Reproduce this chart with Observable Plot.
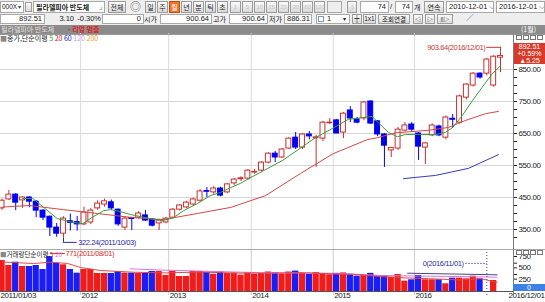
<!DOCTYPE html>
<html><head><meta charset="utf-8">
<script src="https://cdn.jsdelivr.net/npm/d3@7"></script>
<script src="https://cdn.jsdelivr.net/npm/@observablehq/plot@0.6"></script>
<style>
body{margin:0;width:545px;height:302px;overflow:hidden;background:#fff;position:relative;font-family:"Liberation Sans","Noto Sans CJK KR",sans-serif;font-size:7.5px;color:#222}
.a{position:absolute;box-sizing:border-box;white-space:nowrap;overflow:hidden}
.f{background:#fff;border:1px solid #a8a8a8;padding:0 2px}
.b{background:linear-gradient(#fbfbfb,#d9d9d9);border:1px solid #9c9c9c;text-align:center}
.d{color:#c4c4c4;font-size:6px}
.k{font-family:"Noto Sans CJK KR","Liberation Sans",sans-serif}
svg text{letter-spacing:-0.4px}
</style></head><body>
<script>
// ---------- data ----------
const open  = [400,416,444,459,441,450,437,409,390,356, 337,376,373,366,372,416,428,435,412,356, 386,387,394,381,369,372,387,412,419,428, 440,470,466,478,466,494,507,509,528,534, 559,587,575,603,637,606,647,635,634,682, 691,653,722,694,697,750,688,647,597,603, 659,678,650,606,644,672,637,696,684,762, 800,837,837,800,887];
const high  = [425,445,472,462,453,452,440,412,392,369, 390,398,391,420,415,440,445,442,414,390, 388,406,409,384,382,388,415,428,438,448, 475,481,484,482,494,510,515,537,538,562, 590,594,603,637,653,650,656,644,688,697, 694,716,734,700,750,752,690,650,606,669, 684,684,653,622,680,676,705,709,770,806, 840,840,885,893,903.64];
const low   = [395,410,440,409,416,418,387,378,328,326, 322.24,345,345,362,365,410,420,410,360,347, 347,383,375,358,347,368,383,408,415,424, 436,450,460,452,462,488,500,505,522,530, 555,559,572,600,600,600,630,544,625,678, 650,634,684,680,690,678,640,544,575,597, 655,655,566,553,640,640,630,666,680,755, 795,820,830,795,840];
const close = [418,440,459,434,450,437,409,387,356,337, 384,371,366,403,409,431,438,416,366,384, 383,400,378,362,378,384,412,425,434,444, 469,468,478,456,491,506,510,534,530,559, 587,575,600,634,606,647,641,638,684,684, 650,712,697,684,747,681,647,612,605,662, 675,662,609,619,675,644,700,693,766,803, 837,825,881,890,892.51];
const volume = [600,684,574,646,552,552,574,485,771,624, 589,485,404,485,485,397,397,397,441,404, 404,397,404,441,441,353,441,331,331,441, 441,420,380,430,400,410,360,420,380,400, 430,410,390,430,450,400,380,420,390,370, 400,410,380,340,360,400,340,353,316,375, 228,258,353,258,258,258,170,294,294,280, 338,280,0,243,0];

const ma5Idx  = [4,5.5,7.1,9.1,10.3,11.5,12.8,14.2,15.9,16.9,18.3,19.8,22.7,24.6,26.1,27.6,29.6,31.5,33,34.5,35.9,37.4,39.3,42.1,44.4,46.9,49.4,51.7,53.8,55.2,56.1,57.6,58.9,60.1,64.5,65.9,67,68.4,69.9,71.3,72.8,74];
const ma5Val  = [447,447,419,384,378,372,368,388,409,412,406,397,384,378,387,409,431,456,466,481,494,512,534,566,600,637,666,694,700,703,684,653,640,647,647,653,669,706,753,794,837,862];
const ma20Idx = [1,5,10,15,20.2,24.6,29.6,34.5,39.6,44.7,49.5,54.5,56,58.6,63.4,66.4,68.9,71.8,73.7];
const ma20Val = [420,425,412,400,387,381,400,419,456,525,587,631,637,652,660,669,691,712,719];
const ma60Idx = [59.8,64.5,69.3,73.7];
const ma60Val = [509,519,541,584];

const vma5Idx  = [1,5.6,8.1,10.6,12.5,15.4,20.2,25,30.1,35,40,45,50,53,56.4,60,64,68,71.1,73.5];
const vma5Val  = [650,618,646,618,529,463,426,410,430,405,405,415,385,375,330,300,280,255,280,205];
const vma20Idx = [19.8,25,30.1,35,40,45,50,56.4,62,68,73.5];
const vma20Val = [500,470,450,430,410,410,400,353,340,330,316];
const vma60Idx = [60.4,73.5];
const vma60Val = [404,368];

const priceTicks = [350,450,550,650,750,850];
const priceMinor = [325,375,400,425,475,500,525,575,600,625,675,700,725,775,800,825,875,900];
const volTicks = [250,500,750];
const volMinor = [125,375,625];
const yearIdx = [12.5,25.4,37.5,49.5,61.4];
const yearLabels = ["2012","2013","2014","2015","2016"];
const firstLabel = "2011/01/03", lastLabel = "2016/12/01";
const hiDate = "2016/12/01", loDate = "2011/10/03", vMaxDate = "2011/08/01", vMinDate = "2016/11/01";

// ---------- helpers ----------
function el(x,y,w,h,html,cls="",css=""){const d=document.createElement("div");d.className="a "+cls;d.style.cssText=`left:${x}px;top:${y}px;width:${w}px;height:${h}px;line-height:${h-(cls.includes("f")||cls.includes("b")?2:0)}px;${css}`;d.innerHTML=html;document.body.appendChild(d);return d;}

// ---------- toolbar ----------
el(0,0,545,25,"","","background:#eeeeee");
el(0,1,24,12,"000X","f","padding-left:1px;font-size:6.5px");
el(18,4,5,6,"▾","","font-size:6px;line-height:6px;color:#444");
el(25,2,7,10,"","b");
el(33,1,72,12,"필라델피아 반도체","f k","font-weight:bold;font-size:7px");
el(99,3,5,7,"⌟","","color:#777;line-height:7px");
el(108,1,18,12,"전체","b k","font-size:7px");
el(129,1,13,12,"◎","","color:#666;font-size:11px;text-align:center");
["일","주","월","년","분","틱","초"].forEach((t,k)=>el(145+k*12,1,11,12,t,"b k",(t==="월"?"background:#f0742c;color:#fff;border-color:#c05010;":"")+"font-size:7px"));
["1","5","10","15","20","30","60","120"].forEach((t,k)=>el(230+k*12,1,11,12,t,"b d","padding:0"));
el(327,1,15,12,"","f","background:#eee");
el(347,1,10,12,"⇓","b d");
el(360,1,29,12,"74","f","text-align:right");
el(390,1,4,12,"/");
el(395,1,18,12,"74","f","text-align:right");
el(414,1,8,12,"개","k","font-size:7px");
el(424,1,20,12,"연속","b k","font-size:7px");
el(446,1,48,12,"2010-12-01 <span style='color:#666'>⌵</span>","f");
el(496,1,49,12,"2016-12-01 <span style='color:#666'>⌵</span>","f");
el(0,14,45,10,"892.51","f","text-align:right");
el(46,14,28,10,"3.10","","text-align:right");
el(75,14,26,10,"-0.30%","","text-align:right");
el(102,14,42,10,"0","f","text-align:right");
el(144,14,15,10,"시가","k","font-size:7px");
el(160,14,52,10,"900.64","f","text-align:right");
el(213,14,15,10,"고가","k","font-size:7px");
el(229,14,39,10,"900.64","f","text-align:right");
el(269,14,15,10,"저가","k","font-size:7px");
el(284,14,28,10,"886.31","f","text-align:right");
el(316,14,34,10,"","f");
el(318,16,6,6,"","","border:1px solid #7a9ac8;background:#fff");
el(327,14,8,10,"1","","line-height:10px");
el(343,14,6,10,"▾","","font-size:6px;line-height:10px");
el(352,14,10,10,"┼","b");
el(363,14,13,10,"1x1","b","font-size:6.5px");
el(378,14,32,10,"조회연결","b k","font-size:6.5px");
el(413,14,10,10,"◁","b","font-size:6px");
el(425,14,10,10,"▷","b","font-size:6px");
el(437,14,16,10,"||▷","b","font-size:6px");
el(466,14,10,10,"／","","color:#3a64c8;font-weight:bold");

// title bar + legend
el(0,25,545,9,"","","background:#8b8b8b");
el(1,25,68,9,"필라델피아 반도체","k","color:#e6dede;line-height:9px;font-size:7px");
el(68,25,50,9,"- 리얼 멈춤","k","color:#e02424;font-weight:bold;line-height:9px;font-size:7px");
el(521,25,24,9,"(1월)","k","color:#fff;line-height:9px;font-size:7px");
el(0,34,120,9,"<span style='color:#888'>■</span>종가,단순이평 <span style='color:#2a9a2a'>5</span> <span style='color:#d02020'>20</span> <span style='color:#2020c0'>60</span> <span style='color:#c0a0e8'>120</span> <span style='color:#e8a020'>200</span>","k","line-height:9px;font-size:7px");

// ---------- charts ----------
const candles = open.map((o,i)=>({i, open:o, high:high[i], low:low[i], close:close[i], vol:volume[i]}));
const isUp = d => d.close >= d.open;
const UP = "#c83030", DN = "#0000f0", VUP = "#f01c1c", VDN = "#1c1cf5";
const zip = (a,b) => a.map((i,k)=>({i, v:b[k]}));
const PX = 500/160; // price units per pixel
const hi = candles.reduce((a,b)=>b.high>a.high?b:a);
const lo = candles.reduce((a,b)=>b.low<a.low?b:a);
const vmax = candles.reduce((a,b)=>b.vol>a.vol?b:a);
const vmin = candles.slice(60,73).reduce((a,b)=>b.vol<a.vol?b:a);
const font = {fontFamily:"Liberation Sans, sans-serif", fontSize:"8px", background:"transparent", overflow:"visible", color:"#222"};

const pricePlot = Plot.plot({
  width:545, height:216, marginLeft:0, marginRight:32, marginTop:0, marginBottom:0,
  style:font,
  x:{type:"linear", domain:[10,74], range:[63,500], axis:null},
  y:{type:"linear", domain:[350,850], range:[196,36], axis:null},
  color:{type:"identity"},
  marks:[
    Plot.gridY(priceTicks, {stroke:"#d6d6d6", strokeOpacity:1}),
    Plot.gridX(yearIdx, {stroke:"#dcdcdc", strokeOpacity:1}),
    Plot.axisY(priceMinor, {anchor:"right", tickSize:3, tickFormat:()=>""}),
    Plot.axisY(priceTicks, {anchor:"right", tickSize:3, tickPadding:2, tickFormat:d=>d.toFixed(2)}),
    Plot.ruleX(candles, {x:"i", y1:"low", y2:"high", stroke:d=>isUp(d)?UP:DN, clip:true}),
    Plot.rect(candles, {x1:d=>d.i-0.36, x2:d=>d.i+0.36, y1:"open", y2:"close", fill:d=>isUp(d)?"#fff":DN, stroke:d=>isUp(d)?UP:DN, clip:true}),
    Plot.line(zip(ma20Idx,ma20Val), {x:"i", y:"v", stroke:"#d24848", strokeWidth:1, clip:true}),
    Plot.line(zip(ma60Idx,ma60Val), {x:"i", y:"v", stroke:"#3a3ab8", strokeWidth:1, clip:true}),
    Plot.line(zip(ma5Idx,ma5Val), {x:"i", y:"v", stroke:"#3c9c3c", strokeWidth:1, clip:true}),
    // high annotation
    Plot.link([hi], {x1:d=>d.i-2.1, x2:"i", y1:"high", y2:"high", dy:-5, stroke:"#c83a3a"}),
    Plot.ruleX([hi], {x:"i", y1:"high", y2:d=>d.high+5*PX, stroke:"#c83a3a"}),
    Plot.text([hi], {x:d=>d.i-2.2, y:"high", dy:-5, textAnchor:"end", fontSize:7.5, fill:"#c83a3a", text:d=>`${d.high.toFixed(2)}(${hiDate})`}),
    // low annotation
    Plot.ruleX([lo], {x:"i", y1:"low", y2:d=>d.low-4*PX, stroke:"#2a2aa8"}),
    Plot.ruleY([lo], {y:d=>d.low-4*PX, x1:"i", x2:d=>d.i+2, stroke:"#2a2aa8"}),
    Plot.text([lo], {x:d=>d.i+2, y:d=>d.low-4*PX, dx:1, textAnchor:"start", fontSize:7.5, fill:"#2a2aa8", text:d=>`${d.low.toFixed(2)}(${loDate})`})
  ]
});
const pw = el(0,33,545,216,""); pw.style.overflow="visible"; pw.appendChild(pricePlot);

const volPlot = Plot.plot({
  width:545, height:53, marginLeft:0, marginRight:32, marginTop:0, marginBottom:7,
  style:font,
  x:{type:"linear", domain:[10,74], range:[63,500], axis:null},
  y:{type:"linear", domain:[0,750], range:[42,8], axis:null},
  color:{type:"identity"},
  marks:[
    Plot.gridX(yearIdx, {stroke:"#cdcdcd", strokeOpacity:1}),
    Plot.rect(candles, {x1:d=>d.i-0.46, x2:d=>d.i+0.46, y1:()=>0, y2:"vol", fill:d=>isUp(d)?VUP:VDN, clip:true}),
    Plot.line(zip(vma60Idx,vma60Val), {x:"i", y:"v", stroke:"#45458f", strokeWidth:1, clip:true}),
    Plot.line(zip(vma20Idx,vma20Val), {x:"i", y:"v", stroke:"#e070d8", strokeWidth:1, clip:true}),
    Plot.line(zip(vma5Idx,vma5Val), {x:"i", y:"v", stroke:"#e04848", strokeWidth:1, clip:true}),
    Plot.ruleY([0], {stroke:"#555"}),
    Plot.axisY(volMinor, {anchor:"right", tickSize:3, tickFormat:()=>""}),
    Plot.axisY(volTicks, {anchor:"right", tickSize:3, tickPadding:2, dy:-1}),
    Plot.text(yearIdx.map((i,k)=>({i, label:yearLabels[k]})), {x:"i", text:"label", frameAnchor:"bottom", textAnchor:"start", dx:1, dy:2}),
    Plot.text([firstLabel], {text:d=>d, frameAnchor:"bottom-left", textAnchor:"start", dy:2}),
    Plot.text([lastLabel], {text:d=>d, frameAnchor:"bottom-right", textAnchor:"end", dx:31, dy:2}),
    // max volume annotation
    Plot.link([vmax], {x1:"i", x2:d=>d.i+2.2, y1:"vol", y2:"vol", dy:-3, stroke:"#d83030"}),
    Plot.text([vmax], {x:d=>d.i+2.3, y:"vol", dy:-3, textAnchor:"start", fontSize:7.5, fill:"#d83030", text:d=>`${d.vol}(${vMaxDate})`}),
    // min volume annotation
    Plot.ruleX([vmin], {x:"i", stroke:"#4040c8", strokeDasharray:"1,2"}),
    Plot.link([vmin], {x1:d=>d.i-3.2, x2:"i", y1:()=>620, y2:()=>620, stroke:"#8080a8", strokeDasharray:"2,1"}),
    Plot.text([vmin], {x:d=>d.i-3.4, y:()=>620, textAnchor:"end", fontSize:7.5, fill:"#303090", text:d=>`${d.vol}(${vMinDate})`})
  ]
});
const vw = el(0,249,545,53,""); vw.style.overflow="visible"; vw.appendChild(volPlot);

// panel frames and overlays
el(0,34,545,1,"","","background:#9a9a9a");
el(0,249,545,1,"","","background:#a8a8a8");
el(513,34,1,261,"","","background:#7a7a7a");
el(0,250,64,8,"<span style='color:#888'>■</span>거래량단순이평 <span style='color:#e03030'>5</span> <span style='color:#e070d8'>20</span>","k","line-height:8px;font-size:6.5px");
el(516,35,28,6,"","","background:#fff");
[35,250].forEach(y=>["ㅗ","ㅣ","□","×"].forEach((t,k)=>el(516+k*7,y,6,5,"","","border:1px solid #777;background:#fff")));
el(514,43,31,21,"892.51<br>+0.59%<br>▲5.25","","background:#d63a2a;color:#fff;text-align:center;line-height:7px;font-size:7px");
el(513,284,32,7,"0","","background:#3d80e8;color:#fff;text-align:center;line-height:7px;font-size:7px");
</script>
</body></html>
